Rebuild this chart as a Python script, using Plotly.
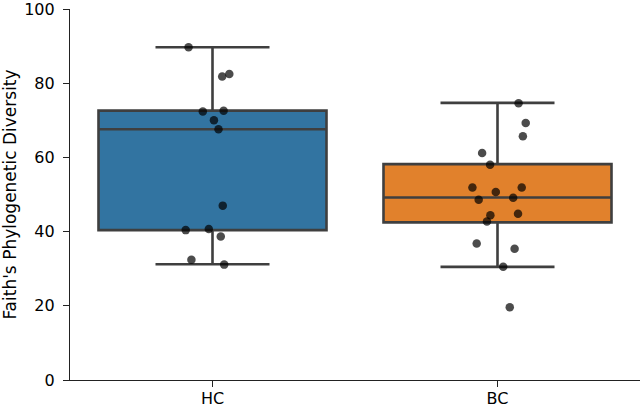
import plotly.graph_objects as go

categories = ["HC", "BC"]
box_colors = ["#3274a1", "#e1812c"]

# box statistics
q1 = [40.4, 42.5]
median = [67.6, 49.2]
q3 = [72.6, 58.2]
lower_whisker = [31.2, 30.5]
upper_whisker = [89.7, 74.7]

# strip points
hc_values = [89.7, 81.8, 82.5, 72.4, 72.6, 70.0, 67.6, 47.0, 40.4, 40.7, 38.7, 32.4, 31.1]
hc_jitter = [-0.084, 0.034, 0.059, -0.034, 0.039, 0.005, 0.021, 0.036, -0.094, -0.013, 0.029, -0.074, 0.041]
bc_values = [74.6, 69.3, 65.7, 61.2, 58.0, 51.9, 51.9, 50.7, 48.6, 49.1, 44.4, 44.8, 42.7, 36.8, 35.4, 30.5, 19.6]
bc_jitter = [0.074, 0.099, 0.089, -0.054, -0.026, -0.088, 0.085, -0.006, -0.066, 0.055, -0.025, 0.072, -0.037, -0.073, 0.060, 0.020, 0.043]

fig = go.Figure()
for i, cat in enumerate(categories):
    fig.add_trace(go.Box(
        x=[i], q1=[q1[i]], median=[median[i]], q3=[q3[i]],
        lowerfence=[lower_whisker[i]], upperfence=[upper_whisker[i]],
        width=0.8, whiskerwidth=0.5, fillcolor=box_colors[i],
        line=dict(color="#3f3f3f", width=2.6), boxpoints=False,
        name=cat, showlegend=False,
    ))

for i, (vals, jit) in enumerate([(hc_values, hc_jitter), (bc_values, bc_jitter)]):
    fig.add_trace(go.Scatter(
        x=[i + j for j in jit], y=vals, mode="markers",
        marker=dict(color="rgba(0,0,0,0.7)", size=8.5, line=dict(width=0)),
        showlegend=False,
    ))

fig.update_layout(
    width=644, height=407,
    margin=dict(l=70, r=4, t=9, b=27),
    plot_bgcolor="white", paper_bgcolor="white",
    font=dict(family="DejaVu Sans", size=17, color="#000"),
    boxmode="overlay",
    xaxis=dict(
        range=[-0.5, 1.5], tickmode="array", tickvals=[0, 1], ticktext=categories,
        showgrid=False, zeroline=False, showline=True, linecolor="#222", linewidth=1.25,
        ticks="outside", ticklen=6, tickwidth=1.25, tickcolor="#222",
        tickfont=dict(size=16), automargin=False, ticklabelstandoff=-2,
        ticklabeloverflow="allow",
    ),
    yaxis=dict(
        range=[0, 100], tickvals=[0, 20, 40, 60, 80, 100],
        showgrid=False, zeroline=False, showline=True, linecolor="#222", linewidth=1.25,
        ticks="outside", ticklen=6, tickwidth=1.25, tickcolor="#222",
        tickfont=dict(size=16), automargin=False, ticklabelstandoff=5,
        ticklabeloverflow="allow",
        title=dict(text="Faith's Phylogenetic Diversity", font=dict(size=17), standoff=6),
    ),
)

fig.write_html(
    "out.html",
    config={"displayModeBar": False},
    post_script="document.body.style.margin='0';",
)
